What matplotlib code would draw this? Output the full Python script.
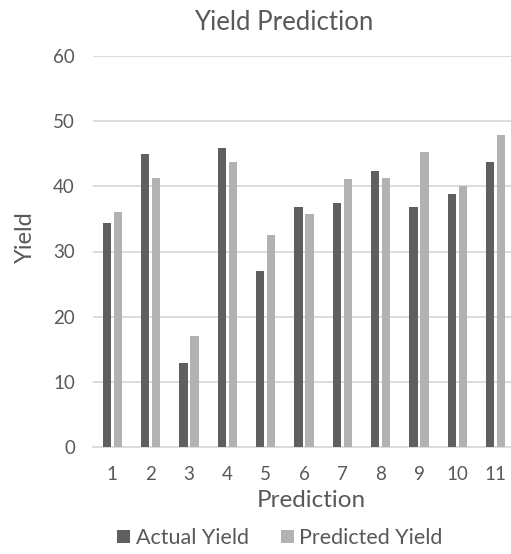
import matplotlib.pyplot as plt
import numpy as np

predictions = ["1", "2", "3", "4", "5", "6", "7", "8", "9", "10", "11"]
actual_yield = [34.4, 45.0, 12.9, 45.9, 27.0, 36.9, 37.4, 42.4, 36.9, 38.9, 43.7]
predicted_yield = [36.0, 41.3, 17.1, 43.8, 32.6, 35.8, 41.2, 41.3, 45.3, 40.0, 47.9]

plt.rcParams["font.family"] = ["Lato", "DejaVu Sans"]
text_color = "#595959"
W, H = 511, 554

fig = plt.figure(figsize=(W / 100, H / 100), dpi=100)
# plot area runs slightly past the right edge of the image, as in the reference
ax = fig.add_axes([93 / W, 1 - 447 / H, 422 / W, 391 / H])

x = np.arange(len(predictions))
width = 0.217
offset = 0.143
ax.bar(x - offset, actual_yield, width, color="#5f5f5f", label="Actual Yield", zorder=3)
ax.bar(x + offset, predicted_yield, width, color="#b2b2b2", label="Predicted Yield", zorder=3)

ax.set_xlim(-0.5, len(predictions) - 0.5)
ax.set_ylim(0, 60)
ax.set_yticks(range(0, 61, 10))
ax.set_xticks(x)
ax.set_xticklabels(predictions)
ax.yaxis.grid(True, color="#d9d9d9", linewidth=1.3, zorder=0)
ax.yaxis.get_gridlines()[0].set_clip_on(False)
for side in ["top", "right", "left", "bottom"]:
    ax.spines[side].set_visible(False)
ax.tick_params(axis="both", length=0, labelsize=13.5, labelcolor=text_color)
ax.tick_params(axis="x", pad=14)
ax.tick_params(axis="y", pad=13)

fig.text(283.5 / W, 1 - 30 / H, "Yield Prediction", ha="center", va="baseline",
         fontsize=18.5, color=text_color)
fig.text(311 / W, 1 - 507 / H, "Prediction", ha="center", va="baseline",
         fontsize=17.5, color=text_color)
fig.text(25 / W, 1 - 237.5 / H, "Yield", ha="center", va="center", rotation=90,
         fontsize=17, color=text_color)

fig.legend(loc="center", bbox_to_anchor=(280 / W, 1 - 538 / H), ncol=2, frameon=False,
           fontsize=15.5, labelcolor=text_color, handlelength=0.6, handleheight=0.6,
           handletextpad=0.25, columnspacing=1.5)

fig.savefig("out.png", dpi=100)
